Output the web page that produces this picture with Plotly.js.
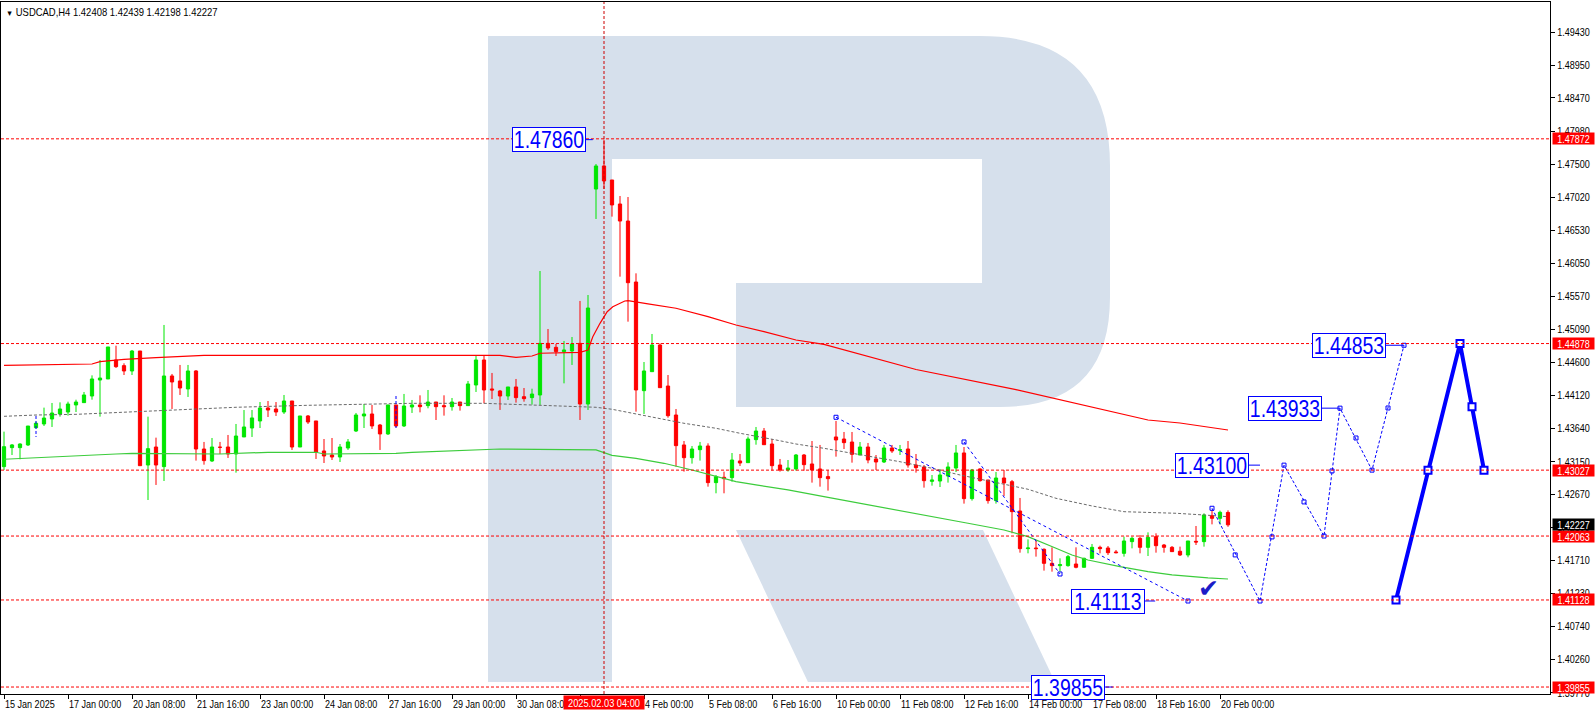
<!DOCTYPE html>
<html><head><meta charset="utf-8">
<script src="https://cdn.plot.ly/plotly-3.0.1.min.js"></script>
<style>html,body{margin:0;padding:0;background:#fff;overflow:hidden}#chart{width:1596px;height:716px}</style>
</head><body><div id="chart"></div>
<script>
// ---------------- DATA ----------------
const symbolTitle = "USDCAD,H4 1.42408 1.42439 1.42198 1.42227";

const opens = [1.43078,1.43356,1.43356,1.43395,1.43648,1.43702,1.43775,1.43848,1.43877,1.43980,
1.44014,1.44111,1.44345,1.44360,1.44638,1.44555,1.44477,1.44769,1.43102,1.43365,
1.43078,1.44404,1.44331,1.44214,1.44477,1.43336,1.43161,1.43361,1.43365,1.43263,
1.43512,1.43643,1.43746,1.43936,1.43921,1.43877,1.44038,1.43365,1.43819,1.43746,
1.43307,1.43248,1.43219,1.43351,1.43599,1.43819,1.43848,1.43687,1.43556,1.43980,
1.43673,1.43950,1.43980,1.43970,1.44023,1.43970,1.43955,1.44023,1.43970,1.44272,
1.44638,1.44214,1.44184,1.44111,1.44243,1.44101,1.44087,1.44126,1.44881,1.44823,
1.44760,1.44770,1.44881,1.43994,1.47138,1.47475,1.47270,1.46919,1.46670,1.45778,
1.44189,1.44467,1.44857,1.44257,1.43833,1.43395,1.43209,1.43326,1.43380,1.42844,
1.42922,1.42917,1.43161,1.43136,1.43473,1.43599,1.43409,1.43102,1.43029,1.43044,
1.43248,1.43117,1.43044,1.42932,1.43512,1.43482,1.43438,1.43248,1.43365,1.43190,
1.43146,1.43351,1.43317,1.43336,1.43102,1.43073,1.42863,1.42868,1.42941,1.43058,
1.43278,1.42610,1.43044,1.42883,1.42581,1.42912,1.42858,1.42429,1.41879,1.41888,
1.41869,1.41664,1.41630,1.41630,1.41654,1.41606,1.41737,1.41898,1.41888,1.41830,
1.41810,1.41981,1.42030,1.41898,1.42054,1.41932,1.41898,1.41840,1.41786,1.41986,
1.41981,1.42361,1.42322,1.42408];
const highs = [1.43590,1.43409,1.43419,1.43672,1.43736,1.43941,1.44009,1.44018,1.44028,1.44057,
1.44170,1.44413,1.44638,1.44828,1.44847,1.44589,1.44784,1.44769,1.43809,1.43502,
1.45150,1.44433,1.44565,1.44565,1.44491,1.43439,1.43497,1.43439,1.43541,1.43702,
1.43906,1.43906,1.44023,1.44038,1.44023,1.44126,1.44038,1.43819,1.43833,1.43746,
1.43482,1.43497,1.43409,1.43482,1.43863,1.43994,1.43980,1.43702,1.43980,1.43980,
1.44141,1.44053,1.44121,1.44199,1.44023,1.44121,1.44082,1.44023,1.44331,1.44696,
1.44696,1.44448,1.44199,1.44243,1.44360,1.44228,1.44218,1.45939,1.45091,1.44872,
1.44916,1.44974,1.45501,1.45588,1.47504,1.47860,1.47270,1.47036,1.47021,1.45905,
1.44608,1.45018,1.44881,1.44418,1.43921,1.43453,1.43380,1.43439,1.43419,1.42956,
1.43005,1.43277,1.43263,1.43517,1.43658,1.43643,1.43482,1.43190,1.43175,1.43263,
1.43263,1.43453,1.43395,1.43029,1.43746,1.43585,1.43585,1.43438,1.43424,1.43248,
1.43395,1.43395,1.43395,1.43453,1.43263,1.43102,1.42956,1.43044,1.43141,1.43395,
1.43365,1.43044,1.43053,1.42883,1.43000,1.43029,1.42883,1.42620,1.42015,1.42005,
1.41883,1.41898,1.41737,1.41786,1.41898,1.41747,1.41947,1.41922,1.41917,1.41859,
1.42054,1.42054,1.42078,1.42117,1.42103,1.41947,1.41917,1.41908,1.41991,1.42210,
1.42395,1.42444,1.42434,1.42439];
const lows = [1.43029,1.43248,1.43185,1.43380,1.43638,1.43672,1.43658,1.43809,1.43824,1.43877,
1.44014,1.44057,1.43809,1.44360,1.44521,1.44418,1.44418,1.43092,1.42590,1.42810,
1.42868,1.43921,1.44126,1.44097,1.43166,1.43107,1.43146,1.43263,1.43205,1.42990,
1.43512,1.43512,1.43643,1.43804,1.43819,1.43848,1.43322,1.43365,1.43702,1.43190,
1.43131,1.43175,1.43146,1.43322,1.43585,1.43643,1.43629,1.43322,1.43541,1.43653,
1.43658,1.43863,1.43872,1.43931,1.43760,1.43824,1.43897,1.43897,1.43970,1.44170,
1.44004,1.44067,1.43907,1.44053,1.44014,1.44028,1.43985,1.43980,1.44784,1.44696,
1.44296,1.44565,1.43760,1.43907,1.46700,1.47138,1.46734,1.45856,1.45198,1.43882,
1.43848,1.44467,1.44233,1.43794,1.43078,1.43005,1.43122,1.43166,1.42785,1.42688,
1.42688,1.42858,1.43087,1.43136,1.43399,1.43399,1.43019,1.43005,1.43005,1.43019,
1.43019,1.42844,1.42785,1.42727,1.43224,1.43336,1.43136,1.43248,1.43127,1.43029,
1.43131,1.43278,1.43248,1.43063,1.42990,1.42771,1.42800,1.42780,1.42844,1.42999,
1.42537,1.42581,1.42858,1.42537,1.42537,1.42649,1.42103,1.41820,1.41810,1.41762,
1.41557,1.41542,1.41542,1.41615,1.41591,1.41606,1.41732,1.41810,1.41786,1.41810,
1.41762,1.41883,1.41810,1.41771,1.41820,1.41820,1.41830,1.41771,1.41752,1.41932,
1.41908,1.42234,1.42234,1.42198];
const closes = [1.43370,1.43395,1.43409,1.43672,1.43712,1.43789,1.43862,1.43921,1.43994,1.44023,
1.44126,1.44360,1.44374,1.44828,1.44540,1.44477,1.44769,1.43092,1.43341,1.43102,
1.44404,1.44316,1.44228,1.44477,1.43336,1.43166,1.43365,1.43361,1.43263,1.43526,
1.43658,1.43790,1.43936,1.43906,1.43877,1.44038,1.43365,1.43819,1.43731,1.43292,
1.43234,1.43219,1.43365,1.43439,1.43833,1.43848,1.43673,1.43556,1.43980,1.43673,
1.43965,1.43980,1.43955,1.44023,1.43955,1.43955,1.44023,1.43970,1.44287,1.44638,
1.44199,1.44199,1.44111,1.44243,1.44087,1.44072,1.44140,1.44881,1.44813,1.44760,
1.44784,1.44872,1.43994,1.45398,1.47475,1.47256,1.46905,1.46670,1.45768,1.44199,
1.44477,1.44857,1.44233,1.43823,1.43385,1.43209,1.43336,1.43380,1.42844,1.42931,
1.42902,1.43175,1.43131,1.43482,1.43599,1.43399,1.43092,1.43029,1.43058,1.43248,
1.43107,1.43029,1.42917,1.42902,1.43468,1.43429,1.43258,1.43365,1.43175,1.43146,
1.43351,1.43307,1.43326,1.43102,1.43063,1.42873,1.42883,1.42956,1.43073,1.43278,
1.42610,1.43029,1.42873,1.42581,1.42912,1.42839,1.42420,1.41879,1.41888,1.41879,
1.41664,1.41630,1.41645,1.41762,1.41606,1.41737,1.41898,1.41879,1.41820,1.41820,
1.41991,1.42030,1.41898,1.42044,1.41922,1.41898,1.41835,1.41786,1.41991,1.41976,
1.42371,1.42322,1.42410,1.42227];

// moving averages (bar index, price)
const redMaBars = [0,11,12,15,19,22,25,62,64,66,67,72,73,73.6,74.5,75.4,76.1,77.6,78,80.5,84,88,91.5,95,99,102.5,114,126.5,143,147,153];
const redMaValues = [1.44560,1.44579,1.44613,1.44648,1.44671,1.44686,1.44706,1.44706,1.44677,1.44696,1.44736,1.44750,1.44784,1.44978,1.45174,1.45344,1.45417,1.45500,1.45505,1.45457,1.45394,1.45271,1.45150,1.45052,1.44930,1.44867,1.44499,1.44205,1.43760,1.43716,1.43614];
const greyMaBars = [0,4,9,12,15,17,21,25,29,38,44,51,60,70,74,76,77.5,80,82,85,89,92,96.5,99,102.5,106,112,116,119.5,123.5,128,131.5,136,140,146.5,150,153];
const greyMaValues = [1.43814,1.43833,1.43843,1.43858,1.43873,1.43892,1.43906,1.43931,1.43946,1.43975,1.43990,1.44004,1.44004,1.43969,1.43946,1.43917,1.43882,1.43833,1.43785,1.43712,1.43639,1.43566,1.43468,1.43409,1.43346,1.43273,1.43150,1.43054,1.42956,1.42858,1.42747,1.42615,1.42503,1.42419,1.42396,1.42371,1.42346];
const greenMaBars = [0,4,7,10,12,14,16,25,27,33,39,40,47,49,51,62,74,76,79,82.5,86,88.5,91.5,94,98,102.5,107,112,116.5,120.5,125,128,131.5,133.5,135.5,139.5,143,146,150.5,153];
const greenMaValues = [1.43186,1.43205,1.43219,1.43234,1.43248,1.43263,1.43273,1.43273,1.43263,1.43288,1.43288,1.43263,1.43263,1.43273,1.43288,1.43336,1.43322,1.43244,1.43200,1.43127,1.43029,1.42956,1.42858,1.42810,1.42737,1.42639,1.42542,1.42444,1.42346,1.42250,1.42152,1.42054,1.41884,1.41786,1.41713,1.41615,1.41542,1.41494,1.41450,1.41435];

// horizontal levels and their right-edge price tags
const levelPrices = [1.47872,1.44878,1.43027,1.42063,1.41128,1.39855];
const lastPrice = 1.42227;
const crossBar = 75;
const crossLabel = "2025.02.03 04:00";

// time axis labels
const timeLabelBars = [0,8,16,24,32,40,48,56,64,72,80,88,96,104,112,120,128,136,144,152];
const timeLabels = ["15 Jan 2025","17 Jan 00:00","20 Jan 08:00","21 Jan 16:00","23 Jan 00:00","24 Jan 08:00","27 Jan 16:00","29 Jan 00:00","30 Jan 08:00","31 Jan 16:00","4 Feb 00:00","5 Feb 08:00","6 Feb 16:00","10 Feb 00:00","11 Feb 08:00","12 Feb 16:00","14 Feb 00:00","17 Feb 08:00","18 Feb 16:00","20 Feb 00:00"];
const priceTicks = [1.39770,1.40260,1.40740,1.41230,1.41710,1.42190,1.42670,1.43150,1.43640,1.44120,1.44600,1.45090,1.45570,1.46050,1.46530,1.47020,1.47500,1.47980,1.48470,1.48950,1.49430];

// forecast (dashed) path
const forecastBars = [151,157,160,165,167,171,175];
const forecastPrices = [1.42469,1.41113,1.43100,1.42063,1.43933,1.43027,1.44853];
const forecastMidBars = [153.9,158.5,162.5,166,169,173];
const forecastMidPrices = [1.41787,1.42050,1.42562,1.43015,1.43497,1.43936];
// bold forecast
const boldBars = [174,178,182,183.5,185];
const boldPrices = [1.41128,1.43027,1.44878,1.43953,1.43027];
// earlier dashed trend lines
const trend1Bars = [104,148];
const trend1Prices = [1.43800,1.41113];
const trend2Bars = [120,132];
const trend2Prices = [1.43439,1.41508];
const tickABars = [4,4], tickAPrices = [1.43819,1.43512];
const tickBBars = [49,49], tickBPrices = [1.44111,1.43643];

// boxed level labels
const boxTexts = ["1.47860","1.44853","1.43933","1.43100","1.41113","1.39855"];
const boxBars = [73.6,175,167,157,143.9,138.6];
const boxPrices = [1.47860,1.44853,1.43933,1.43100,1.41113,1.39855];
const checkBar = 150.6, checkPrice = 1.41300;

// ---------------- DRAWING ----------------
const FONT = '"Liberation Sans",Arial,sans-serif';
const BLUE = '#0000ff';
const idx = opens.map((_, i) => i);

// layout geometry (pixels)
const W = 1596, H = 716, ML = 1, MR = 46, MT = 2, MB = 22;
const PW = W - ML - MR, PH = H - MT - MB;
function px(x, y) { return ((x - ML) / PW).toFixed(5) + ',' + ((H - MB - y) / PH).toFixed(5); }

const traces = [
  {type:'candlestick', x: idx, open: opens, high: highs, low: lows, close: closes,
   increasing:{line:{color:'#00e600', width:1}, fillcolor:'#00e600'},
   decreasing:{line:{color:'#ff0000', width:1}, fillcolor:'#ff0000'},
   whiskerwidth:0, hoverinfo:'skip', showlegend:false},
  {type:'scatter', mode:'lines', x: greyMaBars, y: greyMaValues, line:{color:'#6a6a6a', width:1, dash:'3px,2px'}, hoverinfo:'skip'},
  {type:'scatter', mode:'lines', x: greenMaBars, y: greenMaValues, line:{color:'#3ccc3c', width:1.2}, hoverinfo:'skip'},
  {type:'scatter', mode:'lines', x: redMaBars, y: redMaValues, line:{color:'#ff0000', width:1.2}, hoverinfo:'skip'},
  {type:'scatter', mode:'lines+markers', x: trend1Bars, y: trend1Prices, line:{color:BLUE, width:1, dash:'3px,3px'}, marker:{symbol:'square-open', size:4, color:BLUE}, hoverinfo:'skip'},
  {type:'scatter', mode:'lines+markers', x: trend2Bars, y: trend2Prices, line:{color:BLUE, width:1, dash:'3px,3px'}, marker:{symbol:'square-open', size:4, color:BLUE}, hoverinfo:'skip'},
  {type:'scatter', mode:'lines', x: tickABars, y: tickAPrices, line:{color:BLUE, width:1, dash:'3px,2px'}, hoverinfo:'skip'},
  {type:'scatter', mode:'lines', x: tickBBars, y: tickBPrices, line:{color:BLUE, width:1, dash:'3px,2px'}, hoverinfo:'skip'},
  {type:'scatter', mode:'lines+markers', x: forecastBars, y: forecastPrices, line:{color:BLUE, width:1, dash:'3px,2px'}, marker:{symbol:'square-open', size:4, color:BLUE}, hoverinfo:'skip'},
  {type:'scatter', mode:'markers', x: forecastMidBars, y: forecastMidPrices, marker:{symbol:'square-open', size:4, color:BLUE}, hoverinfo:'skip'},
  {type:'scatter', mode:'lines+markers', x: boldBars, y: boldPrices, line:{color:BLUE, width:4}, marker:{symbol:'square', size:7, color:'#ffffff', line:{color:BLUE, width:2}}, hoverinfo:'skip'}
];

const shapes = [];
// watermark R
shapes.push({type:'path', xref:'paper', yref:'paper', layer:'below', line:{width:0}, fillcolor:'#d6e0ec',
  path:'M'+px(488,682)+' L'+px(488,36)+' L'+px(980,36)+' Q'+px(1110,36)+' '+px(1110,166)+' L'+px(1110,297)+' Q'+px(1110,407)+' '+px(1000,407)+' L'+px(736,407)+' L'+px(736,283)+' L'+px(982,283)+' L'+px(982,159)+' L'+px(612,159)+' L'+px(612,682)+' Z'});
shapes.push({type:'path', xref:'paper', yref:'paper', layer:'below', line:{width:0}, fillcolor:'#d6e0ec',
  path:'M'+px(736,530)+' L'+px(983,530)+' L'+px(1055,682)+' L'+px(808,682)+' Z'});
levelPrices.forEach(p => shapes.push({type:'line', xref:'paper', x0:0, x1:1, yref:'y', y0:p, y1:p, line:{color:'#ff0000', width:1, dash:'3px,2px'}}));
shapes.push({type:'line', xref:'x', x0:crossBar, x1:crossBar, yref:'paper', y0:0, y1:1, line:{color:'#cc0000', width:1, dash:'3px,2px'}});

const annotations = [];
const narrow = {};   // annotation index -> horizontal squeeze (emulates the narrow terminal font)
annotations.push({xref:'paper', yref:'paper', x:0, y:1, xanchor:'left', yanchor:'top', xshift:3, yshift:-2, showarrow:false, align:'left',
  text:'<span style="font-size:8px">▼</span> ' + symbolTitle, font:{family:FONT, size:10.5, color:'#000'}});
narrow[annotations.length - 1] = 0.9;
timeLabelBars.forEach((b, i) => {
  annotations.push({xref:'x', yref:'paper', x:b, y:0, xanchor:'left', yanchor:'top', xshift:-1, yshift:-2,
    showarrow:false, align:'left', text:timeLabels[i], font:{family:FONT, size:10.5, color:'#000'}});
  narrow[annotations.length - 1] = 0.86;
});
annotations.push({xref:'x', yref:'paper', x:crossBar, y:0, xanchor:'center', yanchor:'top', yshift:-1, showarrow:false,
  text:crossLabel, bgcolor:'#ff0000', width:80, height:13, borderpad:0, font:{family:FONT, size:11, color:'#fff'}});
narrow[annotations.length - 1] = 0.84;
levelPrices.forEach(p => {
  annotations.push({xref:'paper', yref:'y', x:1, y:p, xanchor:'left', yanchor:'middle', xshift:2, showarrow:false,
    text:p.toFixed(5), bgcolor:'#ff0000', width:41, height:11, borderpad:0, font:{family:FONT, size:11, color:'#fff'}});
  narrow[annotations.length - 1] = 0.82;
});
annotations.push({xref:'paper', yref:'y', x:1, y:lastPrice, xanchor:'left', yanchor:'middle', xshift:2, showarrow:false,
  text:lastPrice.toFixed(5), bgcolor:'#000000', width:41, height:11, borderpad:0, font:{family:FONT, size:11, color:'#fff'}});
narrow[annotations.length - 1] = 0.82;
const boxOffsets = [-44,-55,-55,-48,-47,-45];
boxTexts.forEach((t, i) => {
  annotations.push({xref:'x', yref:'y', x:boxBars[i], y:boxPrices[i], showarrow:true, arrowhead:0, arrowwidth:1,
    arrowcolor:BLUE, ax:boxOffsets[i], ay:0, standoff:0, text:t, bgcolor:'#ffffff', bordercolor:BLUE, borderwidth:1, borderpad:0,
    width:72, height:23, font:{family:FONT, size:24, color:BLUE}});
  narrow[annotations.length - 1] = 0.81;
});
annotations.push({xref:'x', yref:'y', x:checkBar, y:checkPrice, showarrow:false, text:'✔', font:{family:'DejaVu Sans', size:25, color:'#1c1cc8'}});

const layout = {
  width:W, height:H, margin:{l:ML, r:MR, t:MT, b:MB, pad:0},
  paper_bgcolor:'#ffffff', plot_bgcolor:'#ffffff', showlegend:false, boxgap:0.42,
  xaxis:{range:[(ML-4)/8, (W-MR-4)/8], showgrid:false, zeroline:false, showline:true, mirror:true, linecolor:'#000', linewidth:1,
    tickmode:'array', tickvals:timeLabelBars, showticklabels:false, ticks:'outside', ticklen:4, tickcolor:'#000',
    rangeslider:{visible:false}, fixedrange:true},
  yaxis:{range:[1.39753,1.49873], side:'right', showgrid:false, zeroline:false, showline:true, mirror:true, linecolor:'#000', linewidth:1,
    tickmode:'array', tickvals:priceTicks, tickformat:'.5f', ticks:'outside', ticklen:4, tickcolor:'#000',
    tickfont:{family:FONT, size:11, color:'#000'}, fixedrange:true},
  shapes:shapes, annotations:annotations
};

function squeeze(t, r) {
  const w = t.getComputedTextLength();
  if (w > 0) { t.setAttribute('textLength', (w * r).toFixed(2)); t.setAttribute('lengthAdjust', 'spacingAndGlyphs'); }
}
Plotly.newPlot('chart', traces, layout, {staticPlot:true, displayModeBar:false}).then(() => {
  document.querySelectorAll('#chart .ytick text').forEach(t => squeeze(t, 0.82));
  document.querySelectorAll('#chart g.annotation').forEach(g => {
    const r = narrow[g.getAttribute('data-index')];
    if (r) g.querySelectorAll('text').forEach(t => squeeze(t, r));
  });
});
</script></body></html>
